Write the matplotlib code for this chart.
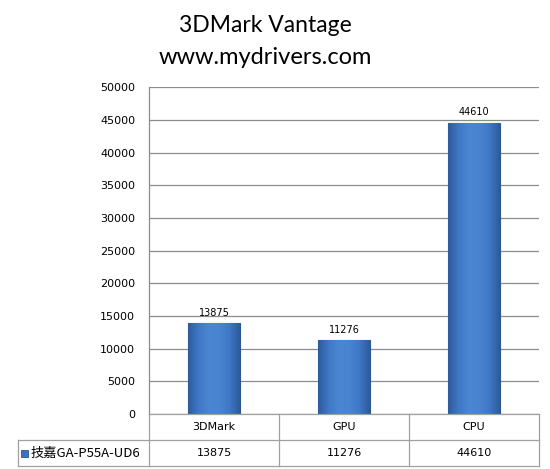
import matplotlib
matplotlib.use("Agg")
import matplotlib.pyplot as plt
import numpy as np
from matplotlib.colors import LinearSegmentedColormap

plt.rcParams['font.family'] = ['Noto Sans CJK SC', 'DejaVu Sans']

categories = ["3DMark", "GPU", "CPU"]
values = [13875, 11276, 44610]
series_name = "技嘉GA-P55A-UD6"
yticks = [0, 5000, 10000, 15000, 20000, 25000, 30000, 35000, 40000, 45000, 50000]
title_lines = ["3DMark Vantage", "www.mydrivers.com"]

W, H = 550, 469
fig = plt.figure(figsize=(W / 100, H / 100), dpi=100)
fig.patch.set_facecolor("white")

left, right, bottom, top = 149, 539, 414, 87.3
ax = fig.add_axes([left / W, 1 - bottom / H, (right - left) / W, (bottom - top) / H])

x = np.arange(len(categories))
bars = ax.bar(x, values, width=0.4, color="#3c72bf", edgecolor="#2b5890", linewidth=0.8, zorder=3)

cmap = LinearSegmentedColormap.from_list(
    "bevel", ["#2e5c9c", "#3f78c6", "#4b86d2", "#4a84d0", "#3f78c6", "#2e5c9c"])
grad = np.linspace(0, 1, 64).reshape(1, -1)
for b in bars:
    x0, y0 = b.get_x(), b.get_y()
    w, h = b.get_width(), b.get_height()
    im = ax.imshow(grad, cmap=cmap, aspect="auto", extent=(x0, x0 + w, y0, y0 + h),
                   zorder=3.2, interpolation="bicubic")
    im.set_clip_path(b)
    # top highlight
    vgrad = np.linspace(0, 1, 32).reshape(-1, 1)
ax.set_aspect("auto")

for xi, v in zip(x, values):
    ax.text(xi, v + 800, f"{v}", ha="center", va="bottom", fontsize=7, color="black",
            family=["DejaVu Sans"])

ax.set_xlim(-0.5, len(categories) - 0.5)
ax.set_ylim(0, 50000)
ax.set_yticks(yticks)
ax.set_yticklabels([str(t) for t in yticks], fontsize=8, family=["DejaVu Sans"])
ax.tick_params(axis="y", length=0, pad=10)
ax.set_xticks([])
ax.yaxis.grid(True, color="#8c8c8c", linewidth=0.9, zorder=0)
for s in ["top", "right", "bottom"]:
    ax.spines[s].set_visible(False)
ax.spines["left"].set_color("#8c8c8c")
ax.spines["left"].set_linewidth(0.9)

# data table (figure pixel coords)
def fx(px):
    return px / W
def fy(py):
    return 1 - py / H

lc = "#a0a0a0"
row1_top, row_mid, row2_bot = 414, 440, 466
tbl_left = 18
colw = (right - left) / len(categories)
lines = [
    ([left, right], [row1_top, row1_top]),
    ([tbl_left, right], [row_mid, row_mid]),
    ([tbl_left, right], [row2_bot, row2_bot]),
    ([tbl_left, tbl_left], [row_mid, row2_bot]),
    ([left, left], [row1_top, row2_bot]),
    ([right, right], [row1_top, row2_bot]),
]
for i in range(1, len(categories)):
    xc = left + colw * i
    lines.append(([xc, xc], [row1_top, row2_bot]))
for xs, ys in lines:
    fig.add_artist(plt.Line2D([fx(v) for v in xs], [fy(v) for v in ys], color=lc, linewidth=0.9))

for i, (c, v) in enumerate(zip(categories, values)):
    xc = left + colw * (i + 0.5)
    fig.text(fx(xc), fy((row1_top + row_mid) / 2), c, ha="center", va="center", fontsize=8,
             family=["DejaVu Sans"])
    fig.text(fx(xc), fy((row_mid + row2_bot) / 2), f"{v}", ha="center", va="center", fontsize=8,
             family=["DejaVu Sans"])

# legend key and series name
fig.add_artist(plt.Rectangle((fx(21), fy(457)), 7 / W, 7 / H, facecolor="#3c72bf",
                             edgecolor="#2b5890", linewidth=0.6))
fig.text(fx(31), fy((row_mid + row2_bot) / 2), series_name, ha="left", va="center", fontsize=9.5,
         family=["Noto Sans CJK SC", "DejaVu Sans"])

fig.text(fx(265), fy(25), title_lines[0], ha="center", va="center", fontsize=16.5, family=["Lato"])
fig.text(fx(265), fy(57), title_lines[1], ha="center", va="center", fontsize=17, family=["Lato"])

fig.savefig("out.png", dpi=100, facecolor="white")
